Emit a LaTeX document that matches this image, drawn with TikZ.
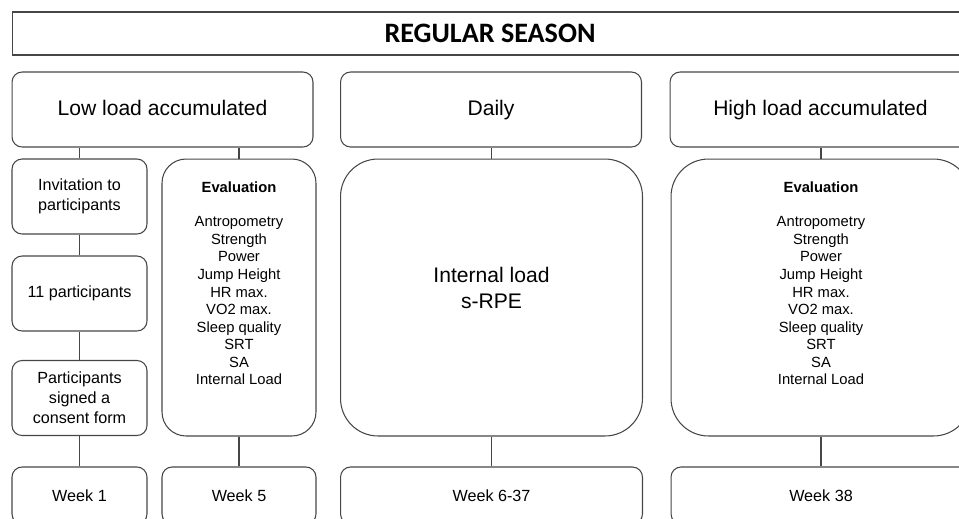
\documentclass[tikz,border=0pt]{standalone}
\usepackage{fontspec}
\setmainfont{Liberation Sans}
\newfontfamily\titlefont{Carlito}
\usetikzlibrary{positioning}

\definecolor{linegray}{RGB}{70,70,70}

\tikzset{
  box/.style={draw=linegray, line width=0.6pt, rounded corners=0.2cm, align=center, inner sep=0pt},
  headbox/.style={box, minimum width=6.02cm, minimum height=1.5cm, text height=0.72em, text depth=0pt, font=\fontsize{12}{14}\selectfont},
  smallbox/.style={box, minimum width=2.7cm, minimum height=1.5cm, font=\fontsize{9.2}{11.3}\selectfont},
  weekbox/.style={box, minimum height=1.14cm, text height=0.72em, text depth=0pt, font=\fontsize{9.2}{11.3}\selectfont},
  bigbox/.style={box, minimum height=5.54cm, rounded corners=0.75cm},
  evaltext/.style={anchor=north, align=center, inner sep=0pt, font=\fontsize{8.4}{10}\selectfont},
  link/.style={draw=linegray, line width=0.6pt}
}

\begin{document}
\begin{tikzpicture}[x=0.02cm, y=-0.02cm]

	  \useasboundingbox (0,0) rectangle (959,518);
	  \clip (0,0) rectangle (959,518);

	  %----------------------------------------------------------------
	  \node [box, rounded corners=0pt, minimum width=19.12cm, minimum height=0.86cm] (season) at (490,33.5) {};
	  \node [font=\titlefont\bfseries\fontsize{16}{18}\selectfont] (seasontxt) at (490,33.5) {REGULAR SEASON};

	  %----------------------------------------------------------------
	  \node [headbox] (low) at (162.5,109.5) {Low load accumulated};
	  \node [headbox] (daily) at (491,109.5) {Daily};
	  \node [headbox] (high) at (820.5,109.5) {High load accumulated};

	  %----------------------------------------------------------------
	  \node [smallbox] (invite) at (79.5,196.5) {Invitation to\\participants};
	  \node [smallbox] (eleven) at (79.5,293.5) {11 participants};
	  \node [smallbox] (consent) at (79.5,398) {Participants\\signed a\\consent form};

	  \node [bigbox, minimum width=3.08cm, rounded corners=0.48cm] (evlow) at (239,297.5) {};
	  \node [evaltext] (evlowtxt) at ([yshift=-0.46cm]evlow.north) {\textbf{Evaluation}\\[9.5pt]Antropometry\\Strength\\Power\\Jump Height\\HR max.\\VO2 max.\\Sleep quality\\SRT\\SA\\Internal Load};

	  \node [bigbox, minimum width=6.04cm] (internal) at (491.5,297.5) {};
	  \node [align=center, inner sep=0pt, font=\fontsize{12}{14.7}\selectfont] (internaltxt) at (491.5,288) {Internal load\\s-RPE};

	  \node [bigbox, minimum width=6cm] (evhigh) at (821,297.5) {};
	  \node [evaltext] (evhightxt) at ([yshift=-0.46cm]evhigh.north) {\textbf{Evaluation}\\[9.5pt]Antropometry\\Strength\\Power\\Jump Height\\HR max.\\VO2 max.\\Sleep quality\\SRT\\SA\\Internal Load};

	  %----------------------------------------------------------------
	  \node [weekbox, minimum width=2.7cm] (week1) at (79.5,495.5) {Week 1};
	  \node [weekbox, minimum width=3.08cm] (week5) at (239,495.5) {Week 5};
	  \node [weekbox, minimum width=6.04cm] (week637) at (491.5,495.5) {Week 6-37};
	  \node [weekbox, minimum width=6cm] (week38) at (821,495.5) {Week 38};

	  %----------------------------------------------------------------
	  \draw [link] (invite.north) -- (invite.north |- low.south);
	  \draw [link] (evlow.north) -- (evlow.north |- low.south);
	  \draw [link] (internal.north) -- (internal.north |- daily.south);
	  \draw [link] (evhigh.north) -- (evhigh.north |- high.south);

	  \draw [link] (invite.south) -- (eleven.north);
	  \draw [link] (eleven.south) -- (consent.north);
	  \draw [link] (consent.south) -- (week1.north);
	  \draw [link] (evlow.south) -- (week5.north);
	  \draw [link] (internal.south) -- (week637.north);
	  \draw [link] (evhigh.south) -- (week38.north);

\end{tikzpicture}
\end{document}
